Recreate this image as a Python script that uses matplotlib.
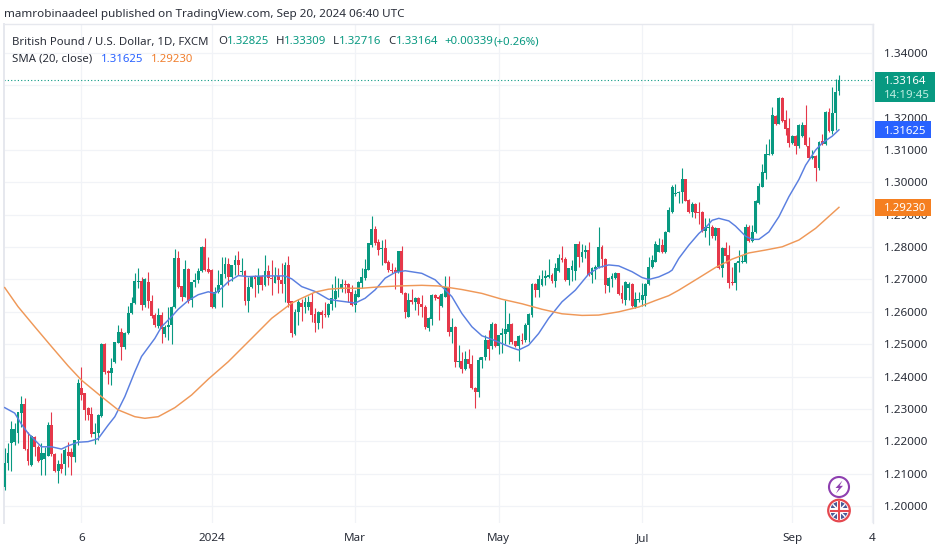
#!/usr/bin/env python3

import matplotlib
matplotlib.use('Agg')
import matplotlib.pyplot as plt
import numpy as np
from matplotlib.patches import Circle, Polygon, Rectangle

# GBP/USD daily candles, in units of 0.0001
opens = [
    12060, 12134, 12194, 12197, 12225, 12286, 12315, 12176, 12127, 12214,
    12183, 12142, 12144, 12155, 12250, 12161, 12109, 12130, 12129, 12168,
    12168, 12150, 12204, 12364, 12348, 12302, 12284, 12223, 12225, 12278,
    12501, 12418, 12412, 12446, 12505, 12538, 12490, 12534, 12595, 12626,
    12693, 12695, 12621, 12693, 12634, 12590, 12557, 12590, 12532, 12554,
    12559, 12616, 12765, 12680, 12647, 12731, 12637, 12693, 12698, 12727,
    12801, 12731, 12729, 12614, 12662, 12683, 12716, 12748, 12709, 12745,
    12760, 12723, 12727, 12635, 12676, 12709, 12683, 12711, 12683, 12727,
    12704, 12690, 12711, 12699, 12686, 12745, 12632, 12532, 12601, 12627,
    12616, 12616, 12630, 12594, 12565, 12601, 12594, 12591, 12624, 12639,
    12663, 12670, 12686, 12686, 12660, 12621, 12647, 12690, 12704, 12730,
    12807, 12856, 12817, 12793, 12797, 12755, 12730, 12730, 12724, 12788,
    12657, 12585, 12637, 12629, 12642, 12624, 12616, 12549, 12577, 12652,
    12645, 12618, 12645, 12678, 12539, 12554, 12444, 12448, 12423, 12453,
    12438, 12366, 12351, 12451, 12461, 12513, 12494, 12562, 12494, 12528,
    12533, 12539, 12562, 12510, 12495, 12513, 12513, 12559, 12590, 12686,
    12667, 12683, 12706, 12708, 12714, 12696, 12727, 12767, 12763, 12698,
    12729, 12727, 12809, 12770, 12786, 12791, 12714, 12731, 12739, 12801,
    12763, 12680, 12703, 12706, 12719, 12657, 12636, 12675, 12685, 12616,
    12636, 12638, 12650, 12686, 12739, 12755, 12786, 12806, 12786, 12848,
    12909, 12964, 12966, 12971, 13009, 12945, 12909, 12933, 12909, 12909,
    12851, 12858, 12863, 12835, 12858, 12736, 12798, 12775, 12693, 12690,
    12750, 12755, 12755, 12861, 12820, 12847, 12935, 12987, 13030, 13085,
    13087, 13206, 13182, 13262, 13192, 13167, 13122, 13144, 13112, 13143,
    13177, 13112, 13074, 13081, 13043, 13129, 13118, 13218, 13160, 13213,
    13282.5,
]
highs = [
    12178, 12194, 12263, 12256, 12292, 12340, 12333, 12230, 12220, 12217,
    12189, 12194, 12183, 12261, 12290, 12163, 12142, 12163, 12178, 12199,
    12178, 12204, 12392, 12431, 12350, 12305, 12307, 12256, 12284, 12505,
    12503, 12420, 12456, 12508, 12559, 12549, 12539, 12618, 12647, 12719,
    12735, 12709, 12706, 12724, 12652, 12595, 12611, 12601, 12559, 12616,
    12618, 12794, 12789, 12680, 12760, 12734, 12693, 12719, 12735, 12804,
    12827, 12771, 12731, 12678, 12729, 12771, 12768, 12766, 12745, 12776,
    12788, 12766, 12728, 12709, 12711, 12714, 12735, 12714, 12776, 12745,
    12760, 12738, 12735, 12752, 12755, 12773, 12635, 12608, 12639, 12639,
    12645, 12649, 12658, 12611, 12604, 12606, 12629, 12627, 12686, 12712,
    12704, 12701, 12699, 12688, 12683, 12668, 12694, 12735, 12763, 12814,
    12896, 12864, 12824, 12822, 12824, 12760, 12750, 12740, 12789, 12804,
    12660, 12657, 12670, 12645, 12645, 12652, 12621, 12583, 12655, 12655,
    12652, 12657, 12711, 12711, 12580, 12556, 12499, 12477, 12480, 12484,
    12466, 12369, 12461, 12461, 12528, 12544, 12569, 12564, 12528, 12549,
    12636, 12595, 12566, 12511, 12528, 12535, 12564, 12595, 12688, 12688,
    12714, 12729, 12729, 12763, 12719, 12750, 12779, 12803, 12770, 12737,
    12760, 12811, 12819, 12811, 12806, 12815, 12739, 12745, 12863, 12806,
    12765, 12708, 12721, 12724, 12721, 12683, 12696, 12693, 12690, 12662,
    12662, 12688, 12688, 12770, 12775, 12820, 12827, 12824, 12851, 12925,
    12992, 12995, 12974, 13043, 13012, 12950, 12940, 12935, 12940, 12912,
    12889, 12889, 12868, 12863, 12860, 12801, 12817, 12806, 12739, 12755,
    12791, 12775, 12873, 12868, 12868, 12945, 12997, 13056, 13118, 13133,
    13234, 13208, 13265, 13265, 13223, 13198, 13146, 13146, 13180, 13187,
    13239, 13141, 13100, 13084, 13128, 13149, 13221, 13229, 13296, 13318,
    13330.9,
]
lows = [
    12050, 12111, 12109, 12189, 12194, 12245, 12173, 12127, 12125, 12153,
    12137, 12096, 12096, 12153, 12153, 12106, 12072, 12101, 12096, 12122,
    12096, 12137, 12189, 12328, 12266, 12266, 12214, 12192, 12204, 12276,
    12408, 12377, 12374, 12443, 12503, 12451, 12484, 12532, 12593, 12624,
    12673, 12606, 12614, 12611, 12580, 12552, 12549, 12505, 12523, 12513,
    12501, 12611, 12673, 12632, 12645, 12628, 12616, 12678, 12688, 12724,
    12727, 12721, 12612, 12612, 12659, 12614, 12704, 12683, 12694, 12714,
    12714, 12714, 12621, 12599, 12673, 12647, 12657, 12668, 12680, 12683,
    12652, 12688, 12657, 12657, 12629, 12616, 12521, 12529, 12560, 12572,
    12596, 12606, 12570, 12539, 12546, 12549, 12585, 12583, 12606, 12616,
    12645, 12660, 12657, 12629, 12618, 12601, 12645, 12675, 12699, 12728,
    12800, 12807, 12776, 12745, 12750, 12724, 12719, 12670, 12719, 12655,
    12580, 12583, 12625, 12606, 12591, 12585, 12546, 12542, 12560, 12637,
    12575, 12616, 12645, 12524, 12505, 12430, 12430, 12410, 12420, 12425,
    12363, 12302, 12336, 12425, 12451, 12451, 12484, 12492, 12469, 12474,
    12502, 12502, 12502, 12492, 12449, 12502, 12508, 12508, 12585, 12647,
    12647, 12680, 12683, 12706, 12688, 12678, 12724, 12755, 12696, 12683,
    12696, 12698, 12739, 12755, 12765, 12712, 12688, 12703, 12737, 12739,
    12659, 12662, 12678, 12703, 12652, 12626, 12621, 12636, 12616, 12613,
    12631, 12619, 12619, 12683, 12737, 12753, 12784, 12781, 12783, 12846,
    12904, 12958, 12935, 12937, 12942, 12904, 12894, 12889, 12873, 12847,
    12832, 12806, 12827, 12822, 12731, 12708, 12750, 12675, 12683, 12667,
    12724, 12750, 12752, 12817, 12817, 12845, 12933, 12985, 13012, 13084,
    13085, 13177, 13180, 13187, 13146, 13110, 13120, 13089, 13105, 13141,
    13112, 13071, 13071, 13005, 13038, 13115, 13115, 13156, 13151, 13162,
    13271.6,
]
closes = [
    12132, 12163, 12238, 12238, 12289, 12315, 12175, 12140, 12216, 12183,
    12140, 12163, 12165, 12250, 12161, 12109, 12130, 12113, 12173, 12153,
    12151, 12204, 12379, 12343, 12297, 12281, 12223, 12228, 12281, 12501,
    12415, 12412, 12426, 12506, 12538, 12492, 12536, 12595, 12626, 12695,
    12695, 12621, 12701, 12632, 12587, 12559, 12590, 12546, 12554, 12559,
    12616, 12765, 12678, 12647, 12731, 12635, 12693, 12698, 12727, 12801,
    12729, 12724, 12614, 12662, 12683, 12716, 12747, 12709, 12745, 12760,
    12745, 12725, 12635, 12676, 12709, 12701, 12711, 12683, 12727, 12704,
    12702, 12711, 12699, 12686, 12745, 12627, 12534, 12601, 12629, 12616,
    12629, 12630, 12591, 12565, 12601, 12591, 12591, 12624, 12642, 12663,
    12665, 12686, 12683, 12657, 12621, 12654, 12691, 12707, 12732, 12812,
    12856, 12812, 12791, 12797, 12752, 12730, 12727, 12724, 12788, 12657,
    12601, 12637, 12629, 12642, 12624, 12616, 12552, 12580, 12652, 12642,
    12639, 12655, 12678, 12539, 12552, 12444, 12448, 12423, 12453, 12438,
    12366, 12351, 12451, 12461, 12513, 12485, 12562, 12494, 12528, 12535,
    12546, 12562, 12506, 12495, 12525, 12510, 12559, 12593, 12686, 12667,
    12700, 12703, 12710, 12714, 12696, 12736, 12767, 12760, 12698, 12734,
    12741, 12809, 12770, 12786, 12791, 12714, 12734, 12739, 12801, 12762,
    12683, 12706, 12711, 12719, 12655, 12639, 12693, 12685, 12618, 12639,
    12639, 12652, 12686, 12739, 12760, 12811, 12806, 12786, 12848, 12915,
    12986, 12966, 12971, 13009, 12943, 12909, 12933, 12906, 12906, 12851,
    12861, 12863, 12835, 12858, 12734, 12798, 12773, 12690, 12688, 12752,
    12757, 12757, 12861, 12819, 12847, 12943, 12989, 13033, 13087, 13087,
    13208, 13182, 13262, 13189, 13164, 13122, 13144, 13112, 13177, 13177,
    13115, 13074, 13081, 13043, 13126, 13118, 13218, 13160, 13215, 13280,
    13316.4,
]

# moving averages as read at some of the bars
sma20_bars = [0, 3, 5, 7, 9, 11, 14, 17, 19, 22, 25, 28, 31, 33, 36, 39, 41, 43, 45, 47,
              50, 52, 55, 58, 61, 63, 65, 67, 70, 73, 78, 84, 86, 89, 93, 97, 100, 103, 105, 108,
              111, 114, 117, 120, 125, 129, 132, 134, 137, 140, 143, 146, 149, 152, 154, 157, 160, 163, 167, 171,
              175, 178, 181, 184, 188, 191, 193, 196, 199, 200, 202, 205, 208, 210, 212, 214, 217, 219, 222, 224,
              226, 229, 232, 235, 238, 240, 243, 245, 248, 250]
sma20_vals = [12304, 12287, 12253, 12225, 12204, 12183, 12183, 12176, 12186, 12197, 12199, 12208, 12250, 12276, 12338, 12415, 12462, 12490, 12518, 12554,
              12585, 12608, 12635, 12653, 12662, 12657, 12673, 12693, 12712, 12709, 12711, 12711, 12702, 12678, 12663, 12639, 12634, 12630, 12627, 12642,
              12668, 12704, 12722, 12727, 12719, 12699, 12668, 12647, 12595, 12554, 12526, 12515, 12502, 12489, 12482, 12497, 12533, 12580, 12631, 12667,
              12717, 12737, 12745, 12742, 12724, 12706, 12700, 12708, 12722, 12729, 12765, 12806, 12842, 12860, 12883, 12889, 12881, 12865, 12834, 12824,
              12824, 12847, 12894, 12956, 13009, 13053, 13100, 13122, 13143, 13162.5]
sma200_bars = [0, 4, 9, 14, 19, 23, 29, 34, 39, 42, 46, 51, 56, 61, 67, 74, 80, 86, 89, 93,
               97, 101, 107, 112, 118, 125, 130, 137, 143, 149, 155, 161, 167, 173, 178, 184, 190, 195, 199, 202,
               208, 213, 218, 223, 228, 233, 238, 243, 250]
sma200_vals = [12675, 12616, 12554, 12493, 12433, 12389, 12338, 12297, 12276, 12271, 12276, 12304, 12343, 12392, 12446, 12518, 12580, 12627, 12642, 12661,
               12670, 12673, 12673, 12677, 12680, 12682, 12680, 12669, 12657, 12639, 12625, 12608, 12594, 12589, 12590, 12600, 12615, 12635, 12650, 12667,
               12705, 12737, 12763, 12782, 12791, 12801, 12822, 12858, 12923]

price_ticks = [1.20, 1.21, 1.22, 1.23, 1.24, 1.25, 1.26, 1.27, 1.28, 1.29, 1.30, 1.31, 1.32, 1.33, 1.34]
time_ticks = [23, 62, 105, 148, 191, 236, 260]
time_labels = ['6', '2024', 'Mar', 'May', 'Jul', 'Sep', '4']

GREEN = '#089981'
RED = '#e5384a'
BLUE = '#5a7fe0'
ORANGE = '#ef9858'
GRID = '#f1f3f7'
TEXT = '#2a2e39'

W, H = 944, 549
plt.rcParams['font.family'] = ['Noto Sans', 'DejaVu Sans']

fig = plt.figure(figsize=(W / 100, H / 100), dpi=100, facecolor='white')
ax = fig.add_axes([4 / W, 1 - 523 / H, (873 - 4) / W, (523 - 24) / H])

o = np.array(opens) / 10000
h = np.array(highs) / 10000
l = np.array(lows) / 10000
c = np.array(closes) / 10000
x = np.arange(len(o))
colors = [GREEN if cl >= op else RED for op, cl in zip(o, c)]

# wicks first, then the bodies
ax.vlines(x, l, h, colors=colors, linewidth=0.8, zorder=3)
ax.bar(x, np.maximum(np.abs(c - o), 0.0002), bottom=np.minimum(o, c), width=0.86,
       color=colors, linewidth=0, zorder=4)

ax.plot(sma20_bars, np.array(sma20_vals) / 10000, color=BLUE, linewidth=1.05, zorder=5)
ax.plot(sma200_bars, np.array(sma200_vals) / 10000, color=ORANGE, linewidth=1.05, zorder=5)

last = c[-1]
ax.axhline(last, color=GREEN, linewidth=0.8, linestyle=(0, (1, 2)), zorder=2)

ax.set_xlim(-0.21, 260.2)
ax.set_ylim(1.19475, 1.34895)
ax.yaxis.tick_right()
ax.set_yticks(price_ticks)
# the 1.33 label sits fully behind the last price tag
ax.set_yticklabels(['' if p == 1.33 else f'{p:.5f}' for p in price_ticks], fontsize=8.4, color=TEXT)
ax.set_xticks(time_ticks)
ax.set_xticklabels(time_labels, fontsize=8.4, color=TEXT)
ax.get_xticklabels()[1].set_fontweight('bold')
ax.tick_params(axis='both', length=0)
ax.tick_params(axis='y', pad=8)
ax.tick_params(axis='x', pad=7)
ax.grid(True, color=GRID, linewidth=0.9)
ax.set_axisbelow(True)
for side, spine in ax.spines.items():
    spine.set_color('#e6e8ee')
    spine.set_linewidth(1.0)
ax.spines['bottom'].set_visible(False)
ax.spines['left'].set_linewidth(1.4)

# overlay in pixel coordinates for the header, price tags and icons
ov = fig.add_axes([0, 0, 1, 1], zorder=10)
ov.set_xlim(0, W)
ov.set_ylim(H, 0)
ov.axis('off')
ov.patch.set_alpha(0)


def price_y(p):
    return H - ax.transData.transform((0, p))[1]


def label(px, py, s, color=TEXT, **kw):
    kw.setdefault('fontsize', 8.2)
    ov.text(px, py + 2, s, color=color, va='center', ha=kw.pop('ha', 'left'), **kw)


label(4, 13, 'mamrobinaadeel published on TradingView.com, Sep 20, 2024 06:40 UTC', fontsize=8.4)
label(12, 40, 'British Pound / U.S. Dollar, 1D, FXCM')
label(218, 40, 'O')
label(227, 40, '1.32825', GREEN)
label(276, 40, 'H')
label(284, 40, '1.33309', GREEN)
label(333, 40, 'L')
label(339, 40, '1.32716', GREEN)
label(388, 40, 'C')
label(396, 40, '1.33164', GREEN)
label(444, 40, '+0.00339', GREEN)
label(494, 40, '(+0.26%)', GREEN)
label(12, 57, 'SMA (20, close)')
label(101, 57, '1.31625', '#2962ff')
label(151, 57, '1.29230', '#f07f2e')

# price tags on the scale
ly = price_y(last)
ov.add_patch(Rectangle((875, ly - 8), 60, 30, facecolor=GREEN, edgecolor='none'))
label(884, ly - 0.5, f'{last:.5f}', 'white', fontweight='bold')
label(884, ly + 13.5, '14:19:45', '#bfeee2', fontweight='bold')
for val, col in ((sma20_vals[-1] / 10000, '#2962ff'), (sma200_vals[-1] / 10000, '#f57f20')):
    py = price_y(val)
    ov.add_patch(Rectangle((875, py - 8.5), 56, 17, facecolor=col, edgecolor='none'))
    label(884, py - 0.5, f'{val:.5f}', 'white', fontweight='bold')

# lightning icon
ov.add_patch(Circle((839, 487), 10, facecolor='white', edgecolor='#8e3fb0', linewidth=1.5))
ov.add_patch(Polygon([(842.5, 480.5), (835.5, 488), (838.8, 488), (836, 493.5), (843, 485.8), (839.6, 485.8)],
                     closed=True, facecolor='#8e3fb0', edgecolor='none'))

# UK flag icon
rim = Circle((839, 510.5), 10.8, facecolor='white', edgecolor='#e5484f', linewidth=1.6)
ov.add_patch(rim)
inner = Circle((839, 510.5), 8.8, transform=ov.transData)
for dx, dy in ((-1, -1), (1, -1), (-1, 1), (1, 1)):
    tri = ov.add_patch(Polygon([(839 + dx * 2.4, 510.5 + dy * 2.4), (839 + dx * 8.5, 510.5 + dy * 2.4), (839 + dx * 8.5, 510.5 + dy * 8.5), (839 + dx * 2.4, 510.5 + dy * 8.5)],
                               closed=True, facecolor='#4a5a96', edgecolor='none'))
    tri.set_clip_path(inner)
    stripe, = ov.plot([839, 839 + dx * 9], [510.5, 510.5 + dy * 9], color='white', linewidth=1.1)
    stripe.set_clip_path(inner)
ov.plot([830.5, 847.5], [510.5, 510.5], color='#e5484f', linewidth=1.5)
ov.plot([839, 839], [502, 519], color='#e5484f', linewidth=1.5)

fig.savefig('out.png', dpi=100, facecolor='white')
plt.close(fig)
